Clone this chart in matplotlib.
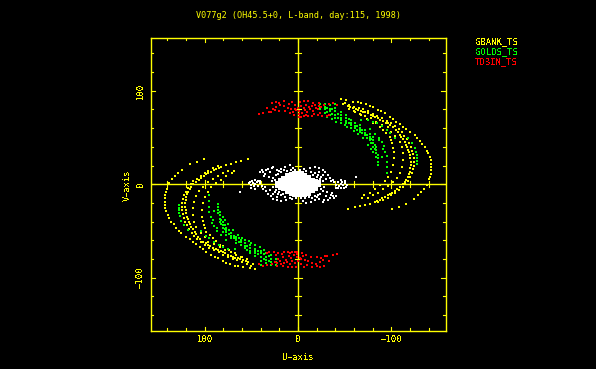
import matplotlib
matplotlib.use("Agg")
import matplotlib.pyplot as plt
import numpy as np

plt.rcParams["font.family"] = "DejaVu Sans Mono"
plt.rcParams["text.antialiased"] = False

title = "V077g2 (OH45.5+0, L-band, day:115, 1998)"
legend_names = ["GBANK_TS", "GOLDS_TS", "TDBIN_TS"]
tick_values = [100, 0, -100]

# half of each uv track, the other half is the conjugate (-u, -v)
gbank_outer = [(-46.5, 91), (-51.8, 90), (-59, 88.3), (-64, 87.5), (-67.9, 87.2), (-73.2, 85.4), (-77, 84),
               (-80.4, 82.2), (-85.7, 79.4), (-89, 78), (-92.9, 75.8), (-98.2, 72.2), (-102, 69.5), (-105.4, 66.9),
               (-109, 64), (-112.5, 61.5), (-116, 59), (-119.7, 56.1), (-125, 52.6), (-128, 49.5), (-130.4, 46.5),
               (-133, 43), (-135.7, 40), (-138, 36), (-139.3, 32.9), (-141, 29), (-142.2, 25.8), (-142.8, 22),
               (-142.9, 18.6), (-142.7, 15), (-142.2, 11.5), (-141.5, 8), (-140.4, 5.4), (-138.2, -1), (-135, -5.3),
               (-132, -8.5), (-128.6, -11.7), (-124, -15.3), (-116, -21.4), (-108, -24.2), (-101, -26.7)]
gbank_inner = [(-48.2, 85.8), (-53.6, 83.6), (-56, 82.5), (-59, 81.1), (-62, 80), (-64.3, 79.4), (-67, 78.5),
               (-69.7, 77.6), (-72, 77), (-75, 75.8), (-78, 74), (-80.4, 72.9), (-83, 71.5), (-85.7, 70.4),
               (-88, 69), (-91.1, 67.9), (-94, 66), (-96.5, 65), (-99, 63), (-101.8, 61.5), (-105, 58.5),
               (-107.2, 56.1), (-109, 53), (-110.7, 50.8), (-112.5, 48), (-114.3, 45.4), (-116, 42.5), (-116.8, 40),
               (-118, 37), (-119, 34.7), (-120, 31), (-120.4, 27.6), (-120.8, 24), (-120.7, 20.4), (-120.5, 17),
               (-119.7, 13.3), (-119, 10.5), (-117.9, 7.9), (-116, 5), (-114.3, 2.6), (-112, 0), (-109, -2.8),
               (-106, -5), (-103.6, -7.1), (-101, -9), (-98.2, -10.7), (-96, -12), (-92.9, -13.5), (-90, -15),
               (-88.2, -16.4), (-85, -17.5), (-82.2, -18.9), (-76.8, -20.6), (-71.5, -21.7), (-66.1, -23.5),
               (-60.7, -24.6), (-53.6, -27)]
gbank_inner2 = [(-50, 87), (-55, 85), (-60, 83), (-65, 81.5), (-70, 80), (-75, 78), (-80, 75.5), (-85, 73),
                (-90, 70.5), (-95, 68), (-100, 65), (-104, 62), (-108, 59), (-111, 55.5), (-114, 52), (-116.5, 48),
                (-119, 44), (-121, 40), (-122.5, 36), (-123.5, 32), (-124.5, 28), (-124.5, 24), (-124, 20),
                (-123.5, 16), (-122, 12), (-120.5, 8), (-118, 4), (-115, 0), (-112, -3), (-108, -6), (-104, -9),
                (-100, -12), (-96, -14.5), (-91, -17), (-86, -19.5)]
gbank_mid = [(-60, 78), (-66, 75.5), (-72, 73), (-78, 70.5), (-84, 67), (-90, 63.5), (-96.5, 61.5), (-100, 56),
             (-104, 52), (-109, 45.4), (-111, 40), (-112.2, 32.9), (-112.5, 25.8), (-111.5, 18.6), (-109, 12.2),
             (-106, 7.2), (-101.8, 2.5), (-96.5, -2.1), (-91.1, -5.6), (-85.7, -9.2), (-80.4, -12), (-75, -14.2),
             (-69, -14.2)]
gbank_low = [(-55, 80), (-61, 77.5), (-67, 74), (-74, 70), (-80, 66), (-84, 65), (-88, 61), (-91, 58), (-94.7, 54.4),
             (-98.2, 50.8), (-100, 47), (-101, 43.6), (-102, 39), (-102.9, 34.7), (-103.2, 27.6), (-101.8, 20.4),
             (-99.3, 13.3), (-96.5, 7.9), (-92.9, 3.3), (-87.5, -1), (-82.2, -4.6), (-76.8, -9.2), (-71, -11.8)]

# the green track is made of short strokes across the band
golds_strokes = [(-23.2, 86), (-23.2, 83), (-23.2, 80), (-28.6, 86), (-28.6, 83), (-28.6, 80), (-28.6, 76),
                 (-33.9, 84.6), (-33.9, 81), (-33.9, 78), (-33.9, 74), (-39.3, 86), (-39.3, 82), (-39.3, 78),
                 (-39.3, 74), (-39.3, 71), (-46.4, 77), (-46.4, 74), (-46.4, 71), (-46.4, 69), (-51.8, 74),
                 (-51.8, 71), (-51.8, 68), (-51.8, 65), (-57.1, 68.6), (-57.1, 66), (-57.1, 63), (-60.7, 65),
                 (-60.7, 62), (-60.7, 60), (-66, 63), (-66, 60), (-66, 58), (-66, 56), (-71.4, 58), (-71.4, 55),
                 (-71.4, 52.5), (-76.8, 54), (-76.8, 51), (-76.8, 49), (-76.8, 47), (-80.4, 50.7), (-80.4, 47),
                 (-80.4, 44), (-80.4, 40), (-83.9, 40), (-83.9, 37), (-83.9, 33), (-83.9, 29.3), (-85.7, 31),
                 (-85.7, 28), (-85.7, 24), (-85.7, 20.7), (-43, 75), (-43, 71), (-54.5, 70), (-54.5, 66),
                 (-63.5, 62), (-63.5, 58), (-69, 58), (-69, 55), (-74, 53), (-74, 49), (-78.5, 48), (-78.5, 44),
                 (-82, 42), (-82, 38), (-31, 82), (-31, 77), (-36.5, 80), (-36.5, 75)]
golds_low = [(-26, 73), (-31, 72), (-36, 70), (-41, 67), (-46, 65), (-50, 63), (-57, 60), (-64, 54), (-70, 49),
             (-75, 42), (-80, 35), (-78, 38), (-60, 57), (-53, 61)]
golds_thin = [(-68, 69), (-76.8, 59.6), (-82, 54), (-87, 47), (-91, 38), (-90, 29), (-75, 69), (-80, 67), (-85, 65),
              (-90, 62), (-95, 58), (-99, 55), (-104, 50), (-87, 50), (-90, 45), (-92, 41), (-93.5, 35), (-95, 30),
              (-95.5, 24), (-95.5, 18), (-95, 12), (-118, 49), (-122, 44), (-125, 39), (-126.5, 34), (-127, 28),
              (-127, 22), (-128, 31), (-128, 25)]

tdbin_band = [(5, 77), (2, 79), (-1, 78), (-4, 76), (-7, 79), (-10, 77), (-13, 81), (-16, 78), (-19, 82), (-21, 80),
              (0, 82), (-3, 84), (-6, 82), (-9, 85), (-12, 83), (-15, 84), (-18, 85), (-22, 84), (-25, 83), (-28, 85),
              (-2, 88), (-6, 89), (-11, 89), (-16, 87), (-23, 87), (-33, 86), (-38, 87), (-42, 85), (4, 74),
              (-1, 75), (-9, 74), (-17, 75), (-24, 76)]
tdbin_sparse = [(-1, 72), (-3, 72), (-6, 73), (-11, 73), (-15, 73), (-21, 74), (-26, 73), (-31, 73), (-33, 74),
                (3, 85), (6, 88), (10, 86), (15, 89), (20, 87), (24, 88), (28, 87), (33, 82), (3, 80),
                (7, 81), (11, 82), (15, 84), (19, 85), (24, 83), (27, 81), (29, 77), (9, 76), (14, 78),
                (20, 78), (25, 79), (42, 75), (37, 76), (31, 77)]

white_core = [(0, 12), (0, 9), (0, 6), (0, 3), (0, 0), (0, -3), (0, -6), (0, -9), (0, -12), (4, 12), (4, 9), (4, 6),
              (4, 3), (4, 0), (4, -3), (4, -6), (4, -9), (4, -12), (8, 11), (8, 8), (8, 5), (8, 2), (8, -1), (8, -4),
              (8, -7), (8, -10), (12, 10), (12, 7), (12, 4), (12, 1), (12, -2), (12, -5), (12, -8), (16, 7), (16, 4),
              (16, 1), (16, -2), (16, -5), (19, 5), (19, 2), (19, -1), (19, -4), (22, 1), (22, -2)]
white_ring = [(39, 15), (37.5, 13), (35.7, 11.4), (32, 16.8), (30, 13), (26.8, 18.6), (23, 15.7), (17.9, 16.8), (14, 18.6),
              (9, 20.4), (5.4, 17.9), (34, 15), (28, 17), (20, 14), (15, 15), (41, 13), (36, 9), (31, 8), (27, 7),
              (51.8, 2.5), (50.7, -1), (50, -3.6), (46.4, -4.6), (42.9, -2), (40.4, 3.6), (46.4, 4.3), (49, 3.6),
              (42.9, 3.6), (45.7, 0), (39, -2), (37.5, -4.6), (34.6, -7), (32, -10), (28.6, -12.9), (26.8, -15.4),
              (23, -17), (18, -18), (12.5, -17), (25, -8), (21.4, -10), (17.9, -11.8), (26.8, -10), (23, -13.6),
              (14.3, -13.6), (9, -14.3), (62.5, -8), (52, 1), (47, -2), (44, 2), (30, -6), (35, -3), (24, 10),
              (21, 11), (18, 13), (12, 14), (7, 15), (3, 15), (25, 5), (28, 3), (27, -3), (24, -6), (20, -8),
              (16, -10), (6, -16), (2, -15), (48, 1), (41, 1)]

all_series = [
    (gbank_outer + gbank_inner + gbank_inner2 + gbank_mid + gbank_low, "#ffff00", 1.5),
    (golds_strokes + golds_low + golds_thin, "#00ff00", 1.7),
    (tdbin_band + tdbin_sparse, "#ff0000", 1.5),
    (white_ring, "#ffffff", 1.8),
    (white_core, "#ffffff", 9),
]

fig = plt.figure(figsize=(5.96, 3.69), dpi=100, facecolor="black")
ax = fig.add_axes([150.5 / 596, 1 - 331 / 369, 295 / 596, 293.5 / 369], facecolor="black")
ax.set_xlim(158, -158)
ax.set_ylim(-157, 157)

# frame and the two axes through the origin
for side in ax.spines.values():
    side.set_color("#ffff00")
    side.set_linewidth(1)
ax.axhline(0, color="#ffff00", lw=1, zorder=2)
ax.axvline(0, color="#ffff00", lw=1, zorder=2)

minor = np.arange(-140, 141, 20)
for tick in minor:
    size = 4.5 if tick % 100 == 0 else 3
    ax.plot([tick, tick], [-157, -157 + size], color="#ffff00", lw=0.8, zorder=2)
    ax.plot([tick, tick], [157, 157 - size], color="#ffff00", lw=0.8, zorder=2)
    ax.plot([158, 158 - size], [tick, tick], color="#ffff00", lw=0.8, zorder=2)
    ax.plot([-158, -158 + size], [tick, tick], color="#ffff00", lw=0.8, zorder=2)
    ax.plot([tick, tick], [-size, size], color="#ffff00", lw=0.8, zorder=2)
    ax.plot([-size, size], [tick, tick], color="#ffff00", lw=0.8, zorder=2)
ax.set_xticks([])
ax.set_yticks([])

for points, color, size in all_series:
    u = np.array([p[0] for p in points])
    v = np.array([p[1] for p in points])
    ax.scatter(np.r_[u, -u], np.r_[v, -v], s=size, c=color, marker="s", linewidths=0, zorder=3, antialiased=False)

yellow = "#ffff00"
for value in tick_values:
    label = str(value).replace("-", "\u2212")
    ax.annotate(label, (value, -157), xytext=(0, -9), textcoords="offset pixels", ha="center", va="center",
                color=yellow, fontsize=6.4, annotation_clip=False)
    ax.annotate(label, (158, value), xytext=(-10, 0), textcoords="offset pixels", ha="center", va="center",
                color=yellow, fontsize=6.4, rotation=90, annotation_clip=False)

fig.text(298 / 596, 1 - 358 / 369, "U\u2212axis", color=yellow, fontsize=6.2, ha="center", va="center")
fig.text(127.5 / 596, 1 - 185 / 369, "V\u2212axis", color=yellow, fontsize=6.2, ha="center", va="center", rotation=90)
fig.text(298.5 / 596, 1 - 16 / 369, title, color=yellow, fontsize=6.15, ha="center", va="center", antialiased=True)
for name, color, y in zip(legend_names, ["#ffff00", "#00ff00", "#ff0000"], [42, 52, 62]):
    fig.text(475 / 596, 1 - y / 369, name, color=color, fontsize=6.4, ha="left", va="center")

fig.savefig("out.png", dpi=100, facecolor="black")
